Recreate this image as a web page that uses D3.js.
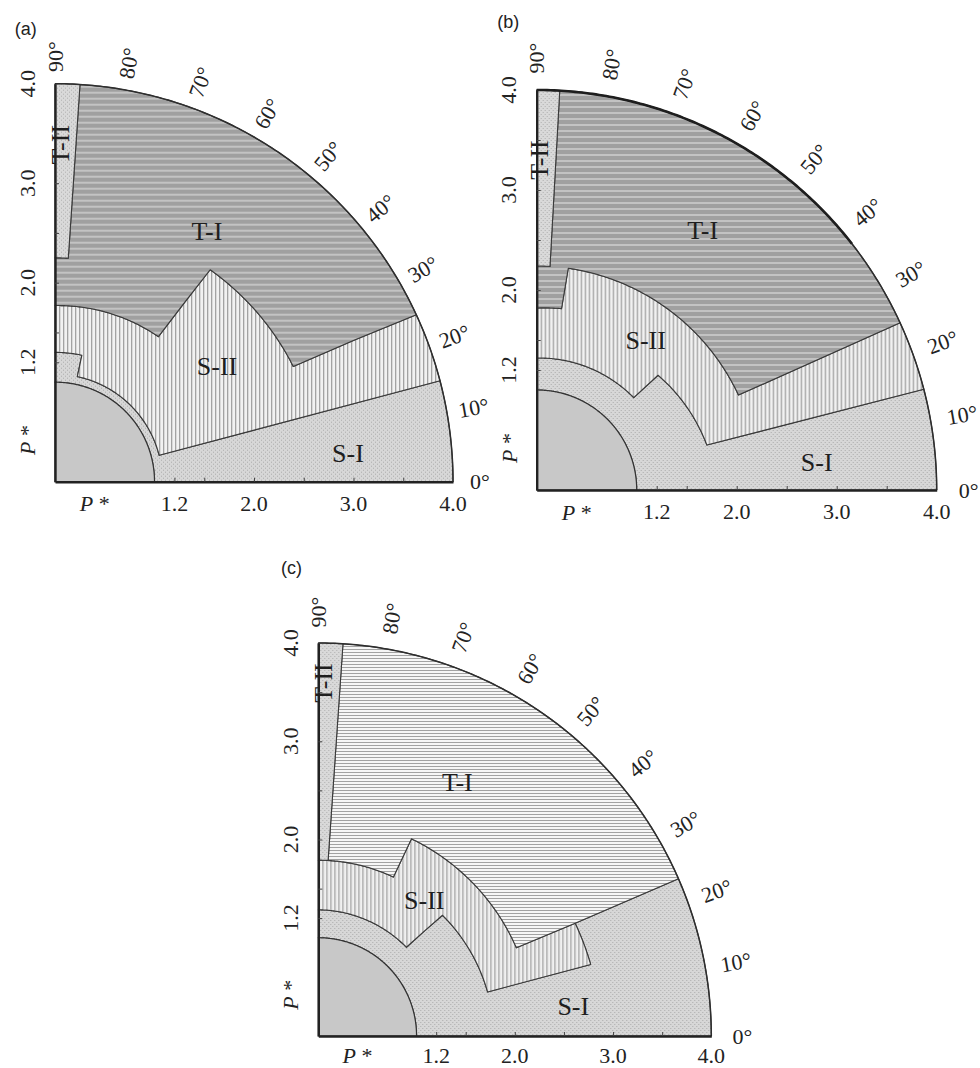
<!DOCTYPE html>
<html>
<head>
<meta charset="utf-8">
<script src="https://cdn.jsdelivr.net/npm/d3@7"></script>
<style>
  body { margin: 0; background: #fff; }
  svg { display: block; }
</style>
</head>
<body>
<svg id="fig" width="980" height="1068"></svg>
<script>
// Polar phase maps. Every vertex is [angle in degrees, P*].
const angleTicks = [0, 10, 20, 30, 40, 50, 60, 70, 80, 90];
const radialTickMarks = [1.2, 1.5, 2.0, 2.5, 3.0, 3.5];
const radialTickLabels = [1.2, 2.0, 3.0, 4.0];

// (a)
const coreA = [[0, 0], [0, 1.0], [90, 1.0], [90, 0]];
const siA   = [[0, 1.0], [0, 4.0], [14.7, 4.0], [14.2, 1.08], [78, 1.08], [78, 1.3], [90, 1.3], [90, 1.0]];
const siiA  = [[14.2, 1.08], [14.7, 4.0], [24.8, 4.0], [25.8, 2.66], [53.8, 2.64], [54.5, 1.79], [90, 1.77], [90, 1.3], [78, 1.3], [78, 1.08]];
const tiA   = [[24.8, 4.0], [86.4, 4.0], [86.6, 2.25], [90, 2.25], [90, 1.77], [54.5, 1.79], [53.8, 2.64], [25.8, 2.66]];
const tiiA  = [[86.4, 4.0], [90, 4.0], [90, 2.25], [86.6, 2.25]];

// (b)
const coreB = [[0, 0], [0, 1.0], [90, 1.0], [90, 0]];
const siB   = [[0, 1.0], [0, 4.0], [14.6, 4.0], [14.8, 1.76], [43.4, 1.67], [43.6, 1.34], [90, 1.32], [90, 1.0]];
const siiB  = [[14.8, 1.76], [14.6, 4.0], [24.7, 4.0], [25.2, 2.23], [81.9, 2.24], [82.2, 1.83], [90, 1.82], [90, 1.32], [43.6, 1.34], [43.4, 1.67]];
const tiB   = [[24.7, 4.0], [86.7, 4.0], [86.6, 2.24], [90, 2.24], [90, 1.82], [82.2, 1.83], [81.9, 2.24], [25.2, 2.23]];
const tiiB  = [[86.7, 4.0], [90, 4.0], [90, 2.24], [86.6, 2.24]];

// (c)
const coreC = [[0, 0], [0, 1.0], [90, 1.0], [90, 0]];
const siC   = [[0, 1.0], [0, 4.0], [23.6, 4.0], [23.7, 2.855], [14.7, 2.866], [14.6, 1.78], [44.2, 1.763], [45.2, 1.273], [90, 1.285], [90, 1.0]];
const siiC  = [[14.6, 1.78], [14.7, 2.866], [23.7, 2.855], [24.0, 2.207], [64.7, 2.22], [64.7, 1.789], [90, 1.788], [90, 1.285], [45.2, 1.273], [44.2, 1.763]];
const tiC   = [[23.6, 4.0], [86.4, 4.0], [86.8, 1.79], [64.7, 1.789], [64.7, 2.22], [24.0, 2.207], [23.7, 2.855]];
const tiiC  = [[86.4, 4.0], [90, 4.0], [90, 1.79], [86.8, 1.79]];

const regionNames = ["S-I", "S-II", "T-I", "T-II"];

// ---- layout ----
const panels = [
  { tag: "(a)", ox: 55, oy: 481.7, R: 398, angleOff: 27, xLabelOff: 21.5, tagPos: [25.7, 29.3], tiFill: "url(#pTIdark)",
    core: coreA, regions: [siA, siiA, tiA, tiiA],
    labelPos: [[293, -28], [162, -115], [152, -250], [5, -337]], rimBold: null },
  { tag: "(b)", ox: 536.7, oy: 490, R: 400, angleOff: 32, xLabelOff: 21.5, tagPos: [508.3, 21.7], tiFill: "url(#pTIdark)",
    core: coreB, regions: [siB, siiB, tiB, tiiB],
    labelPos: [[280, -28], [109, -150], [166, -260], [3, -330]], rimBold: [38, 90] },
  { tag: "(c)", ox: 318.3, oy: 1036, R: 393, angleOff: 31, xLabelOff: 19, tagPos: [291.6, 568], tiFill: "url(#pTIlight)",
    core: coreC, regions: [siC, siiC, tiC, tiiC],
    labelPos: [[255, -30], [106, -136], [139, -254], [5, -353]], rimBold: null }
];

const svg = d3.select("#fig");
const defs = svg.append("defs");

function addPattern(id, w, h, bg, marks) {
  const p = defs.append("pattern").attr("id", id)
    .attr("patternUnits", "userSpaceOnUse").attr("width", w).attr("height", h);
  p.append("rect").attr("width", w).attr("height", h).attr("fill", bg);
  marks.forEach(m => p.append("rect").attr("x", m[0]).attr("y", m[1])
    .attr("width", m[2]).attr("height", m[3]).attr("fill", m[4]));
}
addPattern("pSI", 4, 4, "#d7d7d7", [[0, 0, 1, 1, "#ababab"], [2, 2, 1, 1, "#ababab"]]);
addPattern("pTII", 4, 4, "#d9d9d9", [[0, 0, 1, 1, "#afafaf"], [2, 2, 1, 1, "#afafaf"]]);
addPattern("pSII", 4, 4, "#f1f1f1", [[0, 0, 1.3, 4, "#a2a2a2"]]);
addPattern("pTIdark", 6, 6, "#a0a0a0", [[0, 0, 6, 2, "#c3c3c3"]]);
addPattern("pTIlight", 6, 3, "#f6f6f6", [[0, 0, 6, 1, "#a2a2a2"]]);

const rad = d => (90 - d) * Math.PI / 180;

// interpolate each edge in (angle, P*) so constant-P* edges become arcs
function samplePolygon(verts) {
  const pts = [];
  verts.forEach((a, i) => {
    const b = verts[(i + 1) % verts.length];
    const n = Math.max(1, Math.ceil(Math.abs(b[0] - a[0]) / 0.5));
    for (let k = 0; k < n; k++) {
      const t = k / n;
      pts.push([a[0] + (b[0] - a[0]) * t, a[1] + (b[1] - a[1]) * t]);
    }
  });
  return pts;
}

const serif = "'Liberation Serif', 'Times New Roman', serif";
const tickFont = 22;
const nameFont = 26;

panels.forEach(P => {
  const r = d3.scaleLinear().domain([0, 4]).range([0, P.R]);
  const x = d3.scaleLinear().domain([0, 4]).range([0, P.R]);
  const y = d3.scaleLinear().domain([0, 4]).range([0, -P.R]);
  const g = svg.append("g").attr("transform", `translate(${P.ox},${P.oy})`);

  const shape = d3.lineRadial()
    .angle(d => rad(d[0]))
    .radius(d => r(d[1]))
    .curve(d3.curveLinearClosed);

  const fills = ["url(#pSI)", "url(#pSII)", P.tiFill, "url(#pTII)"];
  P.regions.forEach((reg, i) => {
    g.append("path").attr("d", shape(samplePolygon(reg)))
      .attr("fill", fills[i]).attr("stroke", "#3a3a3a").attr("stroke-width", 1.1)
      .attr("stroke-linejoin", "round");
  });
  g.append("path").attr("d", shape(samplePolygon(P.core)))
    .attr("fill", "#c8c8c8").attr("stroke", "#333").attr("stroke-width", 1.2);

  // outer rim
  const rim = d3.lineRadial().angle(d => rad(d)).radius(r(4));
  g.append("path").attr("d", rim(d3.range(0, 90.01, 0.5)))
    .attr("fill", "none").attr("stroke", "#2e2e2e").attr("stroke-width", 1.5);
  if (P.rimBold) {
    g.append("path").attr("d", rim(d3.range(P.rimBold[0], P.rimBold[1] + 0.01, 0.5)))
      .attr("fill", "none").attr("stroke", "#1e1e1e").attr("stroke-width", 2.6);
  }

  // axes with inward ticks
  const ax = g.append("g").call(d3.axisBottom(x).tickValues(radialTickMarks)
    .tickSize(-4).tickSizeOuter(0).tickFormat(""));
  const ay = g.append("g").call(d3.axisLeft(y).tickValues(radialTickMarks)
    .tickSize(-4).tickSizeOuter(0).tickFormat(""));
  [ax, ay].forEach(a => {
    a.select(".domain").attr("stroke", "#222").attr("stroke-width", 2.4);
    a.selectAll(".tick line").attr("stroke", "#444").attr("stroke-width", 1);
  });

  // radial tick labels
  const fmt = d3.format(".1f");
  radialTickLabels.forEach(v => {
    g.append("text").attr("x", x(v)).attr("y", P.xLabelOff)
      .attr("text-anchor", "middle").attr("dominant-baseline", "central")
      .attr("font-family", serif).attr("font-size", tickFont).attr("fill", "#222")
      .text(fmt(v));
    g.append("text")
      .attr("transform", `translate(-28,${y(v)}) rotate(-90)`)
      .attr("text-anchor", "middle").attr("dominant-baseline", "central")
      .attr("font-family", serif).attr("font-size", tickFont).attr("fill", "#222")
      .text(fmt(v));
  });
  // axis titles
  const px = g.append("text").attr("x", x(0.4)).attr("y", P.xLabelOff)
    .attr("text-anchor", "middle").attr("dominant-baseline", "central")
    .attr("font-family", serif).attr("font-size", tickFont).attr("fill", "#222");
  px.append("tspan").attr("font-style", "italic").text("P");
  px.append("tspan").text(" *");
  const py = g.append("text").attr("transform", `translate(-28,${y(0.42)}) rotate(-90)`)
    .attr("text-anchor", "middle").attr("dominant-baseline", "central")
    .attr("font-family", serif).attr("font-size", tickFont).attr("fill", "#222");
  py.append("tspan").attr("font-style", "italic").text("P");
  py.append("tspan").text(" *");

  // angle labels along the rim
  angleTicks.forEach(a => {
    const rr = P.R + P.angleOff;
    const tx = rr * Math.cos(a * Math.PI / 180);
    const ty = -rr * Math.sin(a * Math.PI / 180);
    g.append("text")
      .attr("transform", `translate(${tx},${ty}) rotate(${-a})`)
      .attr("text-anchor", "middle").attr("dominant-baseline", "central")
      .attr("font-family", serif).attr("font-size", tickFont).attr("fill", "#222")
      .text(a + "°");
  });

  // region names
  regionNames.forEach((name, i) => {
    const [lx, ly] = P.labelPos[i];
    g.append("text")
      .attr("transform", `translate(${lx},${ly})` + (name === "T-II" ? " rotate(-90)" : ""))
      .attr("text-anchor", "middle").attr("dominant-baseline", "central")
      .attr("font-family", serif).attr("font-size", nameFont).attr("fill", "#1e1e1e")
      .text(name);
  });

  // panel tag
  svg.append("text").attr("x", P.tagPos[0]).attr("y", P.tagPos[1])
    .attr("text-anchor", "middle").attr("dominant-baseline", "central")
    .attr("font-family", "'Liberation Sans', Arial, sans-serif").attr("font-size", 18)
    .attr("fill", "#222").text(P.tag);
});
</script>
</body>
</html>
